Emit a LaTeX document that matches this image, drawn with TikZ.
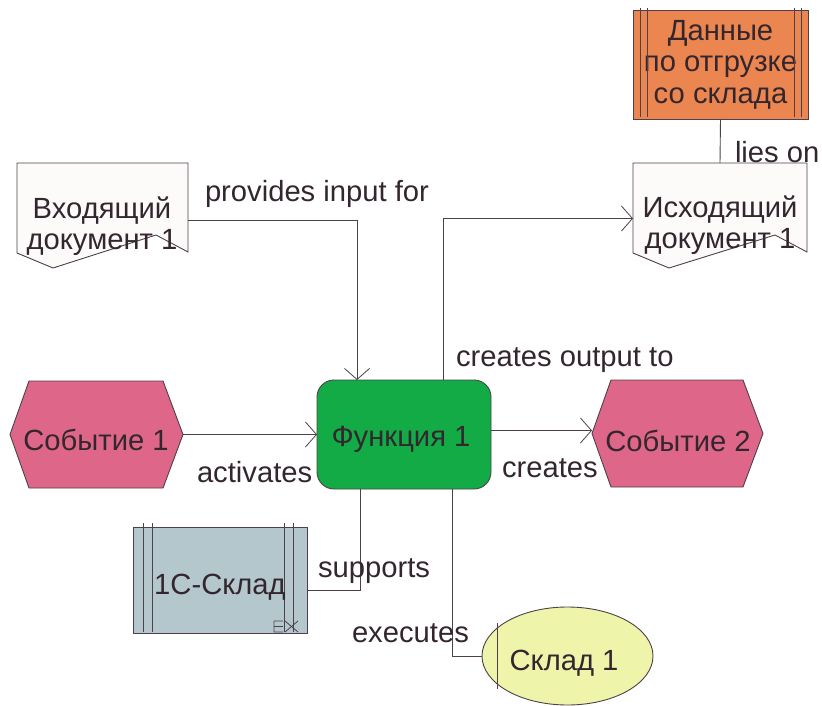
\documentclass[tikz,border=0pt]{standalone}
\usepackage{fontspec}
\setmainfont{Liberation Sans}
\usetikzlibrary{arrows.meta,calc,shapes.geometric}
\definecolor{txt}{RGB}{51,38,46}
\definecolor{ln}{RGB}{78,64,74}
\definecolor{orangefill}{RGB}{236,134,80}
\definecolor{pinkfill}{RGB}{222,103,137}
\definecolor{greenfill}{RGB}{18,171,69}
\definecolor{sysfill}{RGB}{180,199,204}
\definecolor{orgfill}{RGB}{238,244,170}
\definecolor{docfill}{RGB}{253,251,250}
\begin{document}
\begin{tikzpicture}[x=1pt,y=-1pt,
  font=\fontsize{29.2}{31.5}\selectfont,
  every node/.style={text=txt, inner sep=0pt, outer sep=0pt},
  area/.style 2 args={minimum width=#1pt, minimum height=#2pt, draw=none},
  outline/.style={draw=ln, line width=0.9pt},
  inner/.style={draw=ln, line width=0.8pt},
  conn/.style={draw=ln, line width=0.9pt},
  arr/.style={conn, -{Straight Barb[length=11pt,width=25pt,line width=0.8pt]}},
  lbl/.style={anchor=base west}
]
\useasboundingbox (0,0) rectangle (822,706);

% ---------- shapes ----------
% Data (orange)
\node[area={175}{109}, fill=orangefill, outline, align=center] (data) at (720.5,64.5)
  {Данные\\по отгрузке\\со склада};
\foreach \dx in {7,14} {
  \draw[inner] ($(data.north west)+(\dx,-2)$) -- ($(data.south west)+(\dx,-2)$);
  \draw[inner] ($(data.north east)+(-\dx,-2)$) -- ($(data.south east)+(-\dx,-2)$);
}

% Documents
\node[area={171}{105}] (din) at (102.5,215.5) {};
\node[area={174}{105}] (dout) at (720,215.5) {};
\foreach \d/\w in {din/171,dout/174} {
  \draw[outline, fill=docfill] (\d.north west) -- (\d.north east)
    -- ($(\d.north east)+(0,89)$)
    -- ($(\d.north west)+(\w-32,72)$)
    -- ($(\d.north west)+(36,105)$)
    -- ($(\d.north west)+(0,90)$) -- cycle;
}
\node[align=center] (dint) at (102,226) {Входящий\\документ 1};
\node[align=center] (doutt) at (720,225) {Исходящий\\документ 1};

% Function
\node[area={174}{109}, fill=greenfill, outline, rounded corners=17pt] (f) at (404,434.5) {};
\node (ft) at (401,439) {Функция 1};

% Events (hexagons)
\node[area={173}{107}] (e1) at (96.5,434.5) {};
\node[area={171}{107}] (e2) at (677.5,433.5) {};
\foreach \e in {e1,e2} {
  \draw[outline, fill=pinkfill] (\e.west) -- ($(\e.north west)+(19,0)$)
    -- ($(\e.north east)+(-20,0)$) -- (\e.east)
    -- ($(\e.south east)+(-20,0)$) -- ($(\e.south west)+(19,0)$) -- cycle;
}
\node (e1t) at (96,440) {Событие 1};
\node (e2t) at (678,441) {Событие 2};

% Application system
\node[area={174}{106}, fill=sysfill, outline] (sys) at (220,580) {};
\foreach \dx in {10,19} {
  \draw[inner] ($(sys.north west)+(\dx,-4)$) -- ($(sys.south west)+(\dx,-1)$);
  \draw[inner] ($(sys.north east)+(-4-\dx,-4)$) -- ($(sys.south east)+(-4-\dx,-1)$);
}
\node (syst) at (220,587) {1С-Склад};
\draw[inner] (274,621) -- (274,632) (274,621) -- (283,621)
  (274,626.5) -- (283,626.5) (274,632) -- (283,632)
  (285,621) -- (298,632) (285,632) -- (298,621);

% Organisational unit
\node[ellipse, minimum width=171pt, minimum height=98pt, fill=orgfill, outline] (org) at (567.5,656) {};
\draw[inner] (497,623) -- (497,689);
\node (orgt) at (564,663) {Склад 1};

% ---------- connectors ----------
\coordinate (fr) at ($(f.east)+(0,-4)$);
\draw[conn] (data.south) -- (dout.north);
\draw[arr] ($(din.east)+(0,4.5)$) -| ($(f.north)+(-47,0)$);
\draw[arr] ($(f.north)+(39,0)$) |- ($(dout.west)+(0,3)$);
\draw[arr] (e1.east) -- (e1.east -| f.west);
\draw[arr] (fr) -- (fr -| e2.west);
\draw[conn] ($(f.south)+(-44,0)$) |- ($(sys.east)+(0,10)$);
\draw[conn] ($(f.south)+(48,0)$) |- (org.west);

% ---------- labels ----------
\node[lbl] (l1) at (205,201) {provides input for};
\node[lbl] (l2) at (735,162) {lies on};
\node[lbl] (l3) at (456,366) {creates output to};
\node[lbl] (l4) at (197,482) {activates};
\node[lbl] (l5) at (502,477) {creates};
\node[lbl] (l6) at (318,577) {supports};
\node[lbl] (l7) at (352,642) {executes};
\end{tikzpicture}
\end{document}
